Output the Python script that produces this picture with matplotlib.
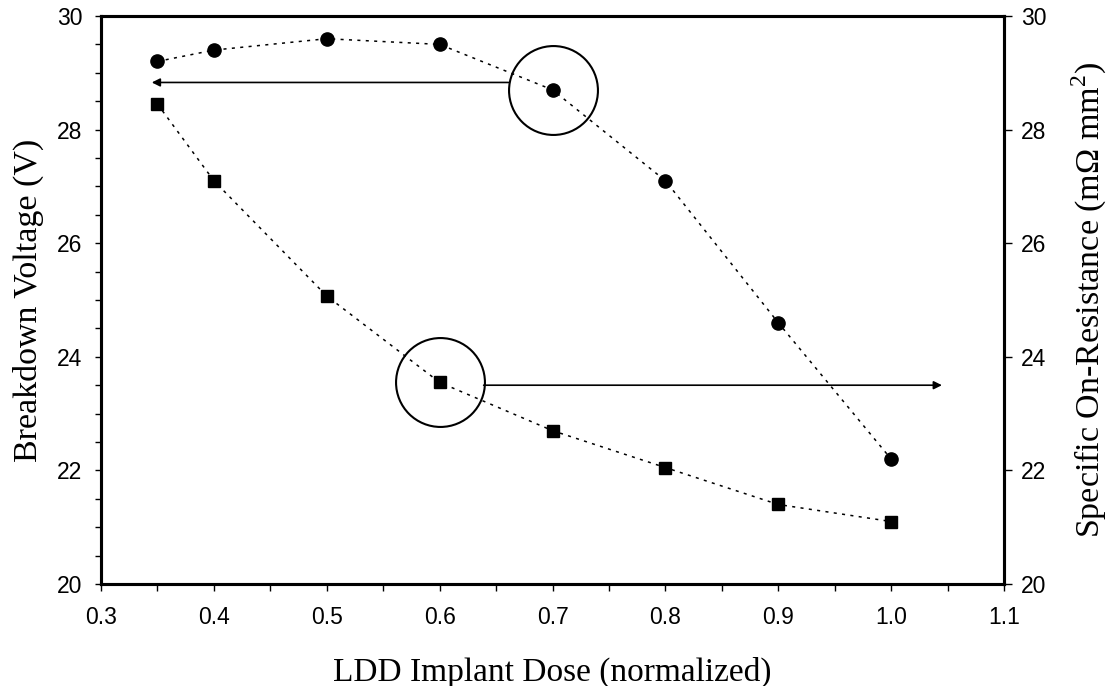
import matplotlib
matplotlib.use('Agg')
import matplotlib.pyplot as plt
from matplotlib.ticker import MultipleLocator

# Data
dose = [0.35, 0.4, 0.5, 0.6, 0.7, 0.8, 0.9, 1.0]
breakdown_v = [29.2, 29.4, 29.6, 29.5, 28.7, 27.1, 24.6, 22.2]
on_res = [28.45, 27.1, 25.07, 23.55, 22.7, 22.05, 21.4, 21.1]

plt.rcParams['mathtext.fontset'] = 'custom'
plt.rcParams['mathtext.rm'] = 'Liberation Serif'

serif = 'Liberation Serif'
sans = 'Liberation Sans'

fig = plt.figure(figsize=(11.08, 6.86), dpi=100)
ax = fig.add_axes([101/1108, 1 - 584/686, (1004-101)/1108, (584-16)/686])
ax2 = ax.twinx()

dots = dict(color='black', lw=1.1, linestyle=(0, (2, 3.5)))
ax.plot(dose, breakdown_v, marker='o', markersize=9.5, **dots)
ax2.plot(dose, on_res, marker='s', markersize=8.5, **dots)

# highlight circles
ax.plot(dose[4], breakdown_v[4], marker='o', markersize=64, mfc='none', mec='black', mew=1.5)
ax2.plot(dose[3], on_res[3], marker='o', markersize=64, mfc='none', mec='black', mew=1.5)

# arrows towards the matching axis
arr = dict(arrowstyle='-|>', color='black', lw=1.2, mutation_scale=12, shrinkA=0, shrinkB=0)
ax.annotate('', xy=(0.345, 28.83), xytext=(0.661, 28.83), arrowprops=arr)
ax2.annotate('', xy=(1.045, 23.5), xytext=(0.639, 23.5), arrowprops=arr)

ax.set_xlim(0.3, 1.1)
ax.set_ylim(20, 30)
ax2.set_ylim(20, 30)

ax.xaxis.set_major_locator(MultipleLocator(0.1))
ax.xaxis.set_minor_locator(MultipleLocator(0.05))
ax.yaxis.set_major_locator(MultipleLocator(2))
ax.yaxis.set_minor_locator(MultipleLocator(0.5))
ax2.yaxis.set_major_locator(MultipleLocator(2))

ax.xaxis.set_major_formatter(matplotlib.ticker.FormatStrFormatter('%.1f'))

for a in (ax, ax2):
    for s in a.spines.values():
        s.set_linewidth(2.2)
    a.tick_params(which='both', direction='out', width=1, labelsize=16.5)
    for lab in a.get_xticklabels() + a.get_yticklabels():
        lab.set_fontfamily(sans)
ax.tick_params(top=False, right=False, which='both')
ax.tick_params(axis='x', which='both', length=5, pad=11)
ax.tick_params(axis='y', which='both', length=4.5, pad=9)
ax2.tick_params(axis='y', length=6, pad=6)

ax.set_xlabel('LDD Implant Dose (normalized)', fontsize=24, family=serif, labelpad=20)
ax.set_ylabel('Breakdown Voltage (V)', fontsize=24.5, family=serif, labelpad=9)
ax2.set_ylabel('Specific On-Resistance (m\u03a9 mm$^\\mathrm{2}$)', fontsize=24.5, family=serif, labelpad=17)

fig.savefig('out.png', dpi=100)
